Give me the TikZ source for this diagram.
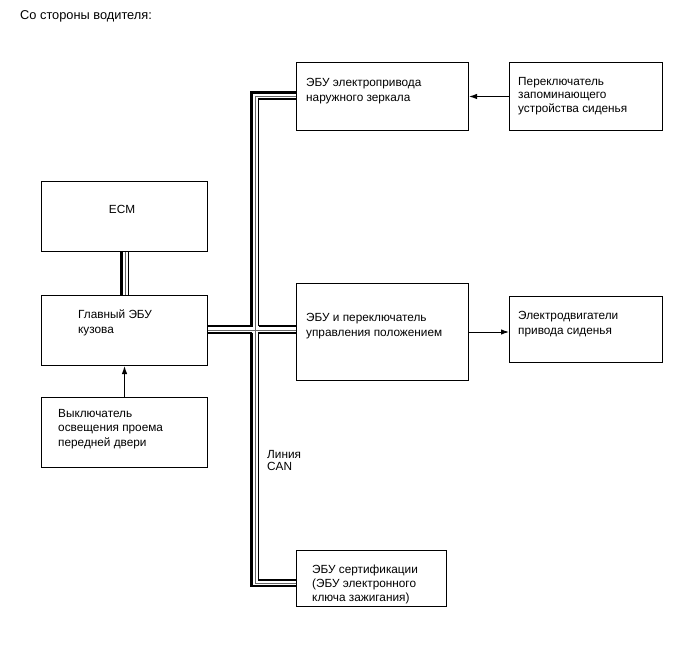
\documentclass[tikz,border=0pt]{standalone}
\usepackage{fontspec}
\setmainfont{Liberation Sans}
\usetikzlibrary{arrows.meta,calc}
\begin{document}
\begin{tikzpicture}[x=1pt,y=-1pt,
  box/.style={draw,line width=1pt,inner sep=0pt,anchor=north west},
  txt/.style={align=left,anchor=north west,inner sep=0pt,font=\fontsize{11.8}{15}\selectfont},
  busthick/.style={line width=2.6pt},
  busthin/.style={line width=1.1pt},
  busgray/.style={line width=0.9pt,black!60},
  arr/.style={line width=1pt,-{Latex[length=8pt,width=5.5pt]}}]
\useasboundingbox (0,0) rectangle (688,658);
% boxes
\node[box,minimum width=166pt,minimum height=70pt] (ecm) at (41,181) {};
\node[box,minimum width=166pt,minimum height=70pt] (main) at (41,295) {};
\node[box,minimum width=166pt,minimum height=70pt] (door) at (41,397) {};
\node[box,minimum width=172pt,minimum height=68pt] (mirror) at (296,62) {};
\node[box,minimum width=153pt,minimum height=68pt] (mem) at (509,62) {};
\node[box,minimum width=172pt,minimum height=97pt] (pos) at (296,283) {};
\node[box,minimum width=153pt,minimum height=66pt] (motor) at (509,296) {};
\node[box,minimum width=150pt,minimum height=56pt] (cert) at (296,550) {};
% texts
\node[txt,font=\fontsize{12.8}{15}\selectfont] (title) at (20,10) {Со стороны водителя:};
\node[txt,anchor=north] (tecm) at (122,205) {ECM};
\node[txt] (tmain) at (78,310) {Главный ЭБУ\\кузова};
\node[txt,font=\fontsize{11.8}{14.5}\selectfont] (tdoor) at (58,409) {Выключатель\\освещения проема\\передней двери};
\node[txt] (tmirror) at (306,78) {ЭБУ электропривода\\наружного зеркала};
\node[txt,font=\fontsize{11.8}{13.5}\selectfont] (tmem) at (518,77) {Переключатель\\запоминающего\\устройства сиденья};
\node[txt] (tpos) at (306,313) {ЭБУ и переключатель\\управления положением};
\node[txt] (tmotor) at (518,311) {Электродвигатели\\привода сиденья};
\node[txt,font=\fontsize{11.8}{14}\selectfont] (tcert) at (312,565) {ЭБУ сертификации\\(ЭБУ электронного\\ключа зажигания)};
\node[txt,font=\fontsize{11.8}{12.5}\selectfont] (tcan) at (267,450) {Линия\\CAN};
% bus coordinates
\coordinate (tL) at (251.5,92.5);
\coordinate (tG) at (255.2,96);
\coordinate (tR) at (258.5,99);
\coordinate (mTL) at (251.5,326);
\coordinate (mTR) at (258.5,326);
\coordinate (mG) at (255.2,330);
\coordinate (mBL) at (251.5,333);
\coordinate (mBR) at (258.5,333);
\coordinate (bL) at (251.5,586);
\coordinate (bG) at (255.2,583);
\coordinate (bR) at (258.5,580);
\coordinate (eL) at (121.5,0);
\coordinate (eG) at (125,0);
\coordinate (eR) at (128.5,0);
% bus
\draw[busthick] (tL -| mirror.west) -- (tL) -- (mTL) -- (mTL -| main.east);
\draw[busthin] (tR -| mirror.west) -- (tR) -- (mTR);
\draw[busthick] (mTR) -- (mTR -| pos.west);
\draw[busgray] (tG -| mirror.west) -- (tG) -- (bG) -- (bG -| cert.west);
\draw[busgray] (mG -| main.east) -- (mG -| pos.west);
\draw[busthin] (mBL -| main.east) -- (mBL);
\draw[busthick] (mBL) -- (bL) -- (bL -| cert.west);
\draw[busthin] (mBR -| pos.west) -- (mBR) -- (bR) -- (bR -| cert.west);
\draw[busthick] (ecm.south -| eL) -- (main.north -| eL);
\draw[busgray] (ecm.south -| eG) -- (main.north -| eG);
\draw[busthin] (ecm.south -| eR) -- (main.north -| eR);
% arrows
\draw[arr] (door.north) -- (main.south);
\draw[arr] (mem.west) -- (mirror.east);
\draw[arr] (pos.east) -- (pos.east -| motor.west);
\end{tikzpicture}
\end{document}
